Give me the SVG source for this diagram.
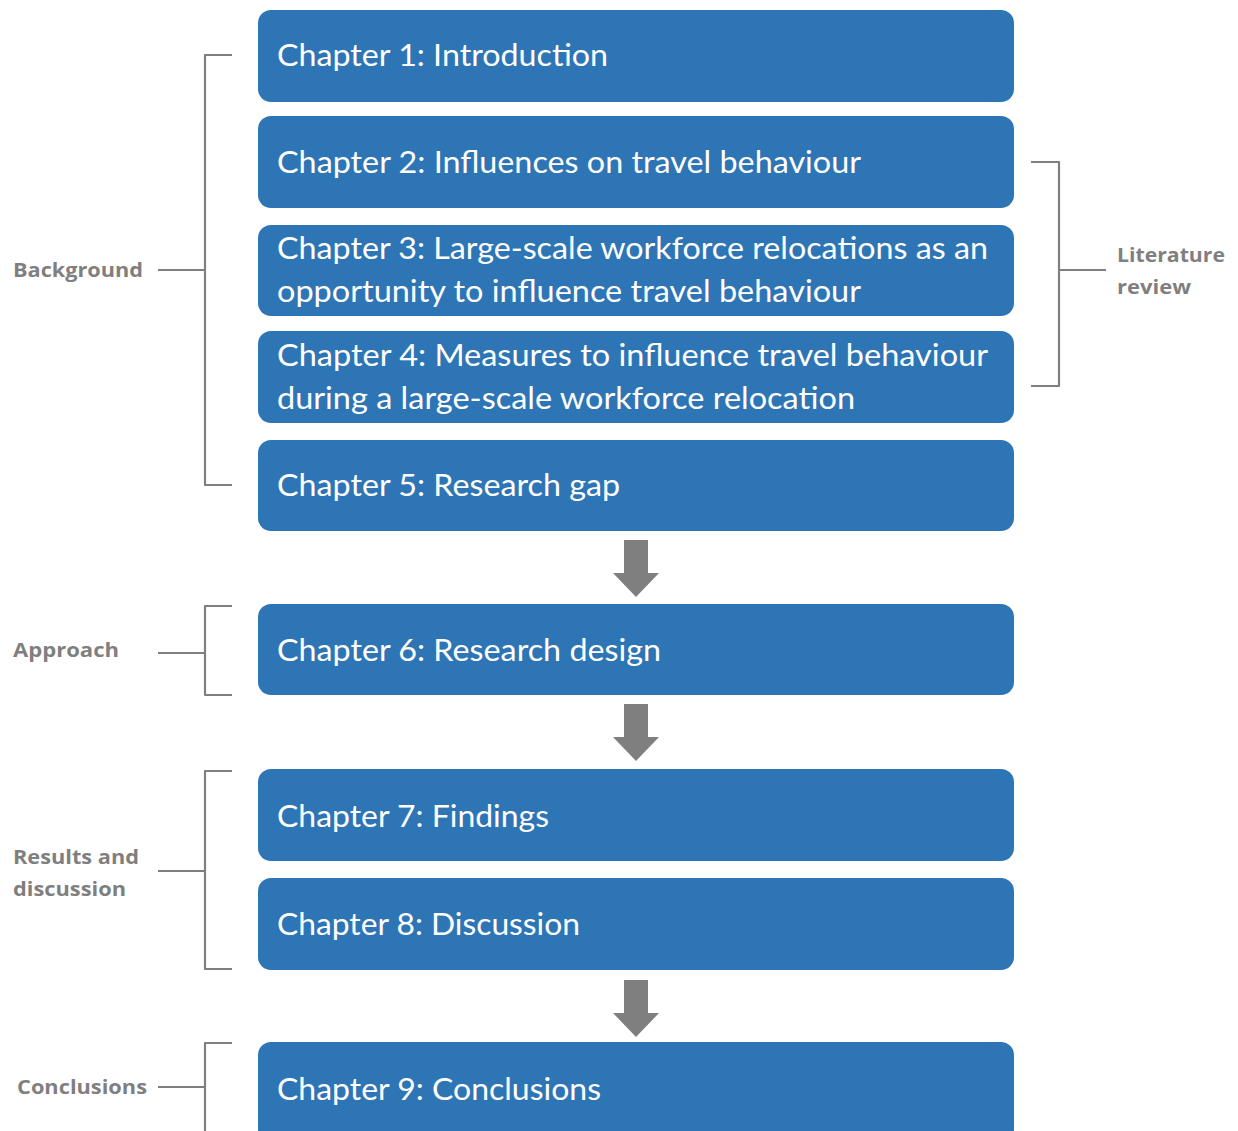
<svg xmlns="http://www.w3.org/2000/svg" width="1238" height="1131" viewBox="0 0 1238 1131">
  <style>
    .box { fill: #2E75B6; }
    .t { fill: #FFFFFF; font-family: Lato, "Open Sans", "Liberation Sans", sans-serif; font-size: 31px; }
    .lbl { fill: #7F7F7F; font-family: "Open Sans", "Liberation Sans", sans-serif; font-size: 20px; font-weight: bold; }
    .br { fill: none; stroke: #7F7F7F; stroke-width: 2.2; stroke-linejoin: round; }
    .arr { fill: #7F7F7F; }
  </style>
  <defs>
    <path id="down" d="M -12 0 H 12 V 33 H 23 L 0 57 L -23 33 H -12 Z"/>
  </defs>

  <rect width="1238" height="1131" fill="#FFFFFF"/>

  <!-- chapter boxes -->
  <g id="ch1"><rect class="box" x="258" y="10" width="756" height="92" rx="13"/>
    <text class="t" x="277" y="66" textLength="331" lengthAdjust="spacingAndGlyphs">Chapter 1: Introduction</text></g>
  <g id="ch2"><rect class="box" x="258" y="116" width="756" height="92" rx="13"/>
    <text class="t" x="277" y="173" textLength="584" lengthAdjust="spacingAndGlyphs">Chapter 2: Influences on travel behaviour</text></g>
  <g id="ch3"><rect class="box" x="258" y="225" width="756" height="91" rx="13"/>
    <text class="t" x="277" y="259" textLength="711" lengthAdjust="spacingAndGlyphs">Chapter 3: Large-scale workforce relocations as an</text>
    <text class="t" x="277" y="302" textLength="584" lengthAdjust="spacingAndGlyphs">opportunity to influence travel behaviour</text></g>
  <g id="ch4"><rect class="box" x="258" y="331" width="756" height="92" rx="13"/>
    <text class="t" x="277" y="366" textLength="711" lengthAdjust="spacingAndGlyphs">Chapter 4: Measures to influence travel behaviour</text>
    <text class="t" x="277" y="409" textLength="578" lengthAdjust="spacingAndGlyphs">during a large-scale workforce relocation</text></g>
  <g id="ch5"><rect class="box" x="258" y="440" width="756" height="91" rx="13"/>
    <text class="t" x="277" y="496" textLength="343" lengthAdjust="spacingAndGlyphs">Chapter 5: Research gap</text></g>
  <g id="ch6"><rect class="box" x="258" y="604" width="756" height="91" rx="13"/>
    <text class="t" x="277" y="661" textLength="384" lengthAdjust="spacingAndGlyphs">Chapter 6: Research design</text></g>
  <g id="ch7"><rect class="box" x="258" y="769" width="756" height="92" rx="13"/>
    <text class="t" x="277" y="827" textLength="272" lengthAdjust="spacingAndGlyphs">Chapter 7: Findings</text></g>
  <g id="ch8"><rect class="box" x="258" y="878" width="756" height="92" rx="13"/>
    <text class="t" x="277" y="935" textLength="303" lengthAdjust="spacingAndGlyphs">Chapter 8: Discussion</text></g>
  <g id="ch9"><rect class="box" x="258" y="1042" width="756" height="100" rx="13"/>
    <text class="t" x="277" y="1100" textLength="324" lengthAdjust="spacingAndGlyphs">Chapter 9: Conclusions</text></g>

  <!-- section labels -->
  <g id="lbl-background"><text class="lbl" x="13" y="277" textLength="130" lengthAdjust="spacingAndGlyphs">Background</text></g>
  <g id="lbl-approach"><text class="lbl" x="13" y="657" textLength="106" lengthAdjust="spacingAndGlyphs">Approach</text></g>
  <g id="lbl-results">
    <text class="lbl" x="13" y="864" textLength="126" lengthAdjust="spacingAndGlyphs">Results and</text>
    <text class="lbl" x="13" y="896" textLength="113" lengthAdjust="spacingAndGlyphs">discussion</text></g>
  <g id="lbl-conclusions"><text class="lbl" x="17" y="1094" textLength="130" lengthAdjust="spacingAndGlyphs">Conclusions</text></g>
  <g id="lbl-literature">
    <text class="lbl" x="1117" y="262" textLength="108" lengthAdjust="spacingAndGlyphs">Literature</text>
    <text class="lbl" x="1117" y="294" textLength="74" lengthAdjust="spacingAndGlyphs">review</text></g>

  <!-- brackets and flow arrows -->
  <g id="connectors">
    <path class="br" d="M 232 55 H 205 V 485 H 232 M 158 270 H 205"/>
    <path class="br" d="M 232 606 H 205 V 695 H 232 M 158 653 H 205"/>
    <path class="br" d="M 232 771 H 205 V 969 H 232 M 158 871 H 205"/>
    <path class="br" d="M 232 1043 H 205 V 1140 M 158 1087 H 205"/>
    <path class="br" d="M 1031 162 H 1059 V 386 H 1031 M 1059 270 H 1106"/>
    <use href="#down" class="arr" x="636" y="540"/>
    <use href="#down" class="arr" x="636" y="704"/>
    <use href="#down" class="arr" x="636" y="980"/>
  </g>
</svg>
